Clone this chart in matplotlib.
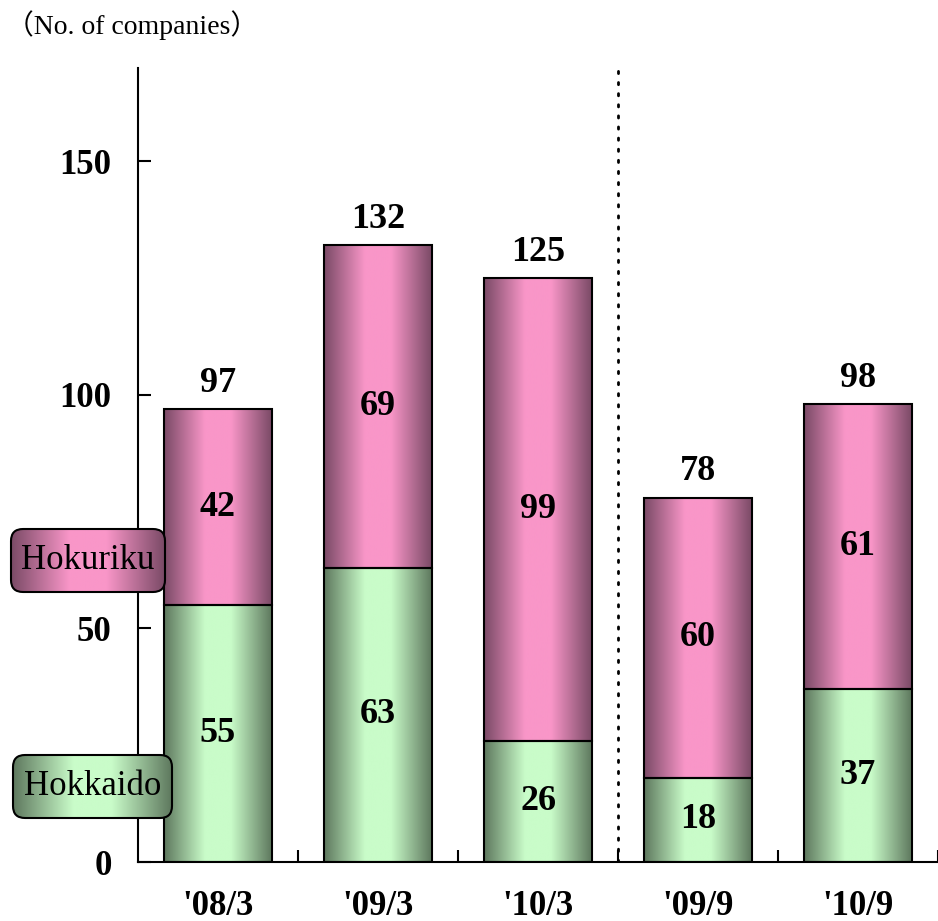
import numpy as np
import matplotlib
matplotlib.use("Agg")
import matplotlib.pyplot as plt
from matplotlib.colors import LinearSegmentedColormap
from matplotlib.patches import FancyBboxPatch

plt.rcParams['font.family'] = ['Liberation Serif', 'Noto Sans CJK JP']

periods = ["'08/3", "'09/3", "'10/3", "'09/9", "'10/9"]
hokkaido = [55, 63, 26, 18, 37]
hokuriku = [42, 69, 99, 60, 61]
totals = [97, 132, 125, 78, 98]

pink = LinearSegmentedColormap.from_list(
    'pink', [(0, '#7a4a66'), (0.38, '#f996c8'), (0.62, '#f996c8'), (1, '#7a4a66')])
green = LinearSegmentedColormap.from_list(
    'green', [(0, '#5e785e'), (0.38, '#c9fcc9'), (0.62, '#c9fcc9'), (1, '#5e785e')])
grad = np.linspace(0, 1, 256).reshape(1, -1)

fig = plt.figure(figsize=(9.38, 9.21), dpi=100)
ax = fig.add_axes([138 / 938, 59 / 921, 800 / 938, 794 / 921])

x = np.arange(len(periods))
w = 0.67
b1 = ax.bar(x, hokkaido, w, facecolor='none', edgecolor='black', lw=1.5, zorder=3)
b2 = ax.bar(x, hokuriku, w, bottom=hokkaido, facecolor='none', edgecolor='black', lw=1.5, zorder=3)

# gradient fill for every segment
for bars, cmap in ((b1, green), (b2, pink)):
    for r in bars:
        x0, y0 = r.get_x(), r.get_y()
        ax.imshow(grad, cmap=cmap, aspect='auto', zorder=2,
                  extent=(x0, x0 + r.get_width(), y0, y0 + r.get_height()))

for i in x:
    ax.text(i, hokkaido[i] / 2, str(hokkaido[i]), ha='center', va='center',
            fontsize=26, fontweight='bold', zorder=4)
    ax.text(i, hokkaido[i] + hokuriku[i] / 2, str(hokuriku[i]), ha='center', va='center',
            fontsize=26, fontweight='bold', zorder=4)
    ax.text(i, totals[i] + 2, str(totals[i]), ha='center', va='bottom',
            fontsize=26, fontweight='bold', zorder=4)

ax.set_xlim(-0.5, 4.5)
ax.set_ylim(0, 170)
ax.set_yticks([0, 50, 100, 150])
ax.set_xticks(x)
ax.set_xticklabels(periods, fontsize=25, fontweight='bold')
ax.set_xticks(np.arange(0.5, 4.6, 1), minor=True)
for lab in ax.get_yticklabels():
    lab.set_fontsize(25)
    lab.set_fontweight('bold')
ax.tick_params(axis='y', direction='in', length=9, width=1.5, pad=19)
ax.tick_params(axis='x', which='major', length=0, pad=20)
ax.tick_params(axis='x', which='minor', direction='in', length=9, width=1.5)
for s in ('top', 'right'):
    ax.spines[s].set_visible(False)
for s in ('left', 'bottom'):
    ax.spines[s].set_linewidth(1.5)

ax.axvline(2.5, color='black', lw=2, ls=(0, (0.8, 3.2)), dash_capstyle='round', zorder=1)

# series labels in rounded boxes
for label, cmap, box in (('Hokuriku', pink, (11, 329, 154, 63)),
                         ('Hokkaido', green, (13, 103, 159, 63))):
    bx, by, bw, bh = box
    patch = FancyBboxPatch((bx, by), bw, bh, boxstyle='round,pad=0,rounding_size=12',
                           transform=None, facecolor='none', edgecolor='black', lw=1.5, zorder=6)
    fig.patches.append(patch)
    iax = fig.add_axes([bx / 938, by / 921, bw / 938, bh / 921], zorder=5)
    iax.imshow(grad, cmap=cmap, aspect='auto', extent=(0, 1, 0, 1))
    iax.set_axis_off()
    clip = FancyBboxPatch((bx, by), bw, bh, boxstyle='round,pad=0,rounding_size=12',
                          transform=None, facecolor='none', edgecolor='none')
    iax.images[0].set_clip_path(clip)
    fig.text((bx + bw / 2) / 938, (by + bh / 2) / 921, label, ha='center', va='center',
             fontsize=25, zorder=7)

fig.text(6 / 938, 1 - 25 / 921, '（No. of companies）', ha='left', va='center', fontsize=20)

fig.savefig('out.png', dpi=100)
